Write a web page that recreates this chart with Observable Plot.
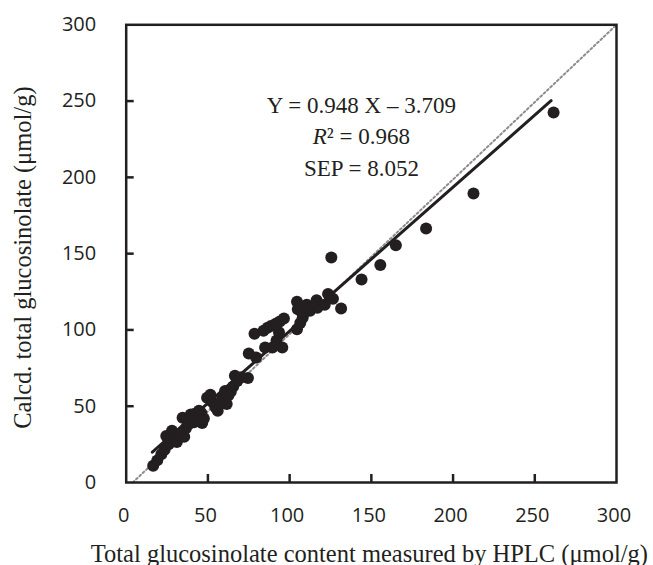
<!DOCTYPE html>
<html>
<head>
<meta charset="utf-8">
<script src="https://cdn.jsdelivr.net/npm/d3@7"></script>
<script src="https://cdn.jsdelivr.net/npm/@observablehq/plot@0.6"></script>
<style>
  html, body { margin: 0; padding: 0; background: #fff; }
  #chart svg { display: block; }
</style>
</head>
<body>
<div id="chart"></div>
<script>
// Total glucosinolate measured by HPLC (µmol/g)
const hplc = [
  16.5, 19, 21.5, 23.5, 24.5, 26, 28, 29.5, 31, 32,
  34.5, 35.5, 36.5, 38, 39.5, 41.5, 42, 44.5, 46, 46.5,
  47.5, 49.5, 51.5, 52.5, 54.5, 56, 57, 59, 61.5, 62.5,
  64, 65.5, 66.5, 68, 70.5, 74.5, 75, 79.5, 78.5, 84,
  86.5, 88.5, 91.5, 94, 96.5, 85, 89.5, 92, 93.5, 95.5,
  104.5, 106.5, 108, 104.5, 105, 107.5, 110.5, 112.5, 116.5, 117,
  121.5, 123.5, 126.5, 131.5, 125.5, 144, 155.5, 165, 183.5, 212.5,
  261.5, 60.5, 44
];
// Calculated total glucosinolate (µmol/g)
const calcd = [
  11, 14.5, 18.5, 21.5, 30.5, 25, 34, 29, 26.5, 31,
  42.5, 30, 35.5, 38, 44.5, 39.5, 45, 47, 45.5, 39,
  42, 55.5, 57.5, 53, 49.5, 47, 52, 55, 51.5, 57,
  59.5, 63, 70, 66.5, 69, 68.5, 84.5, 82, 97.5, 99.5,
  101.5, 102.5, 104, 105.5, 107.5, 88.5, 88.5, 93, 98.5, 88.5,
  100.5, 104.5, 108, 118.5, 113.5, 111.5, 116.5, 112.5, 119.5, 114.5,
  116.5, 123.5, 120.5, 114, 147.5, 133, 142.5, 155.5, 166.5, 189.5,
  242.5, 60, 41
];
const xTicks = [0, 50, 100, 150, 200, 250, 300];
const yTicks = [0, 50, 100, 150, 200, 250, 300];
// fitted line as drawn (end points)
const fitX = [16, 260];
const fitY = [19.9, 250.3];
// 1:1 reference line (dotted)
const refX = [4, 300];
const refY = [0, 300];
const equationLines = ["Y = 0.948 X \u2013 3.709", "R\u00B2 = 0.968", "SEP = 8.052"];
const xTitle = "Total glucosinolate content measured by HPLC (\u03BCmol/g)";
const yTitle = "Calcd. total glucosinolate (\u03BCmol/g)";

const points = hplc.map((x, i) => ({x, y: calcd[i]}));
const fitLine = fitX.map((x, i) => ({x, y: fitY[i]}));
const refLine = refX.map((x, i) => ({x, y: refY[i]}));

const serif = "'Liberation Serif', 'Times New Roman', serif";
const sans = "'Open Sans', 'Noto Sans', sans-serif";
const ink = "#231f20";

const W = 653, H = 565;
const mL = 125.7, mR = 37, mT = 24.3, mB = 83;
const frameW = W - mL - mR, frameH = H - mT - mB;
const tickLen = 8;
// tick length expressed in each scale's units
const tickLenY = tickLen * 300 / frameH;
const tickLenX = tickLen * 300 / frameW;

const chart = Plot.plot({
  width: W,
  height: H,
  marginLeft: mL,
  marginRight: mR,
  marginTop: mT,
  marginBottom: mB,
  x: {domain: [0, 300]},
  y: {domain: [0, 300]},
  style: {background: "#fff", color: ink, fontFamily: sans},
  marks: [
    Plot.line(refLine, {x: "x", y: "y", stroke: "#8c8c8c", strokeWidth: 2, strokeDasharray: "2,2.6"}),
    Plot.line(fitLine, {x: "x", y: "y", stroke: ink, strokeWidth: 3}),
    Plot.dot(points, {x: "x", y: "y", r: 6, fill: ink}),
    Plot.frame({stroke: ink, strokeWidth: 2.5}),
    // inward ticks
    Plot.ruleX(xTicks.slice(1, -1), {x: d => d, y1: 0, y2: tickLenY, stroke: ink, strokeWidth: 2.5}),
    Plot.ruleY(yTicks.slice(1, -1), {y: d => d, x1: 0, x2: tickLenX, stroke: ink, strokeWidth: 2.5}),
    // tick labels
    Plot.axisX(xTicks, {tickSize: 0, stroke: "none", tickPadding: 25, dx: -2.5, fontSize: 20, fontFamily: sans, fill: ink, label: null}),
    Plot.axisY(yTicks, {tickSize: 0, stroke: "none", tickPadding: 30, fontSize: 20, fontFamily: sans, fill: ink, label: null}),
    // axis titles
    Plot.text([xTitle], {frameAnchor: "bottom", textAnchor: "middle", lineAnchor: "bottom", dy: 79, dx: -2, fontSize: 24.5, fontFamily: serif, fill: ink}),
    Plot.text([yTitle], {frameAnchor: "left", textAnchor: "middle", lineAnchor: "bottom", rotate: -90, dx: -95.7, dy: 4, fontSize: 24.5, fontFamily: serif, fill: ink}),
    // equation block
    Plot.text([equationLines[0]], {x: 143.9, y: 242.1, lineAnchor: "bottom", fontSize: 23, fontFamily: serif, fill: ink}),
    Plot.text([equationLines[1]], {x: 143.9, y: 222.0, lineAnchor: "bottom", fontSize: 23, fontFamily: serif, fill: ink}),
    Plot.text([equationLines[2]], {x: 143.9, y: 201.2, lineAnchor: "bottom", fontSize: 23, fontFamily: serif, fill: ink})
  ]
});

// italic R in the R² line
chart.querySelectorAll("text").forEach(t => {
  if (t.textContent === equationLines[1]) {
    t.textContent = "";
    const ns = "http://www.w3.org/2000/svg";
    const a = document.createElementNS(ns, "tspan");
    a.setAttribute("font-style", "italic");
    a.textContent = "R";
    const b = document.createElementNS(ns, "tspan");
    b.textContent = equationLines[1].slice(1);
    t.appendChild(a);
    t.appendChild(b);
  }
});

document.getElementById("chart").appendChild(chart);
</script>
</body>
</html>
